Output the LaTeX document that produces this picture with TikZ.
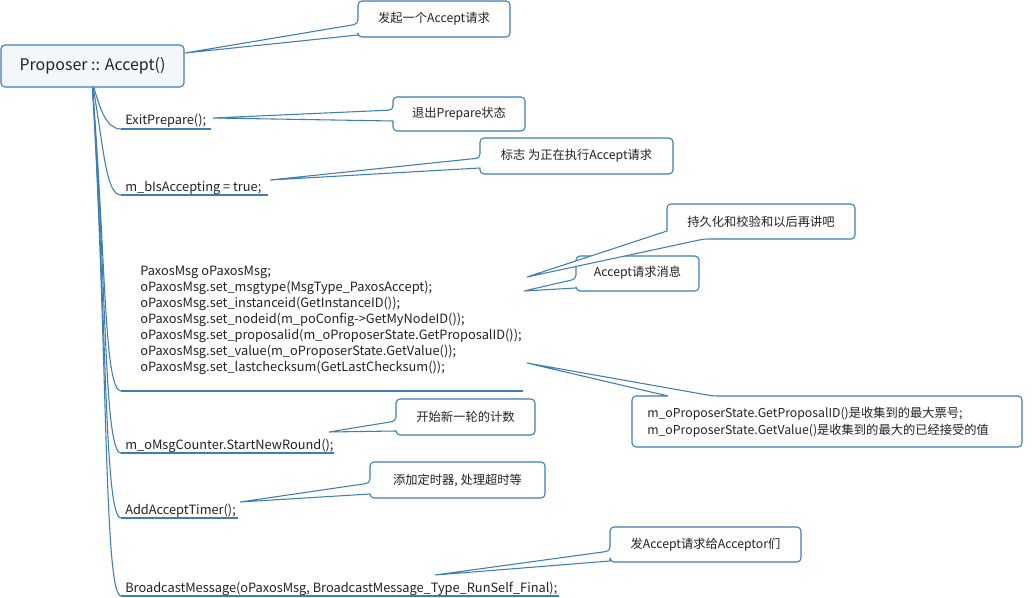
\documentclass[tikz,border=0pt]{standalone}
\usepackage{fontspec}
\setmainfont{Noto Sans CJK SC}
\definecolor{ln}{HTML}{3F7DB3}
\definecolor{rootfill}{HTML}{F3F7FB}
\definecolor{ink}{HTML}{222222}
\newcommand\mkcallL[7]{% x0 y0 x1 y1 ya yb apex
  \filldraw[callout] (#7) -- (#1,#6) [rounded corners=3pt] -- (#1,#4) -- (#3,#4) -- (#3,#2) -- (#1,#2) -- (#1,#5) [sharp corners] -- (#7);}
\begin{document}
\begin{tikzpicture}[x=0.75pt,y=-0.75pt,
  callout/.style={fill=white,draw=ln,line width=0.8pt,line join=round},
  branch/.style={draw=ln,line width=0.8pt},
  uline/.style={draw=ln,line width=0.8pt},
  txt/.style={inner sep=0pt,text=ink,font=\fontsize{9.6}{12}\selectfont},
  ctxt/.style={inner sep=0pt,text=ink,font=\fontsize{9.2}{12.75}\selectfont}]
\useasboundingbox (0,0) rectangle (1032,598);

% root
\node[draw=ln,fill=rootfill,line width=0.8pt,rounded corners=3pt,
  minimum width=137.25pt,minimum height=31.5pt,inner sep=0pt,text=ink,
  font=\fontsize{12}{14}\selectfont] (root) at (92.5,66) {Proposer :: Accept()};

% items
\node[txt,anchor=west] (i1) at (125,121) {ExitPrepare();};
\node[txt,anchor=west] (i2) at (125,188) {m\_bIsAccepting = true;};
\node[txt,anchor=north west,align=left] (i3) at (140,266) {PaxosMsg oPaxosMsg;\\
oPaxosMsg.set\_msgtype(MsgType\_PaxosAccept);\\
oPaxosMsg.set\_instanceid(GetInstanceID());\\
oPaxosMsg.set\_nodeid(m\_poConfig->GetMyNodeID());\\
oPaxosMsg.set\_proposalid(m\_oProposerState.GetProposalID());\\
oPaxosMsg.set\_value(m\_oProposerState.GetValue());\\
oPaxosMsg.set\_lastchecksum(GetLastChecksum());};
\node[txt,anchor=west] (i4) at (125,446) {m\_oMsgCounter.StartNewRound();};
\node[txt,anchor=west] (i5) at (125,511) {AddAcceptTimer();};
\node[txt,anchor=west] (i6) at (125,589) {BroadcastMessage(oPaxosMsg, BroadcastMessage\_Type\_RunSelf\_Final);};

% underline coordinates
\coordinate (u1s) at (121,129); \coordinate (u1e) at (211,129);
\coordinate (u2s) at (121,195); \coordinate (u2e) at (268,195);
\coordinate (u3s) at (121,391); \coordinate (u3e) at (523,391);
\coordinate (u4s) at (121,453); \coordinate (u4e) at (334,453);
\coordinate (u5s) at (121,518); \coordinate (u5e) at (238,518);
\coordinate (u6s) at (121,596); \coordinate (u6e) at (559,596);
\foreach \k in {1,...,6} {\draw[uline] (u\k s) -- (u\k e);}

% branches
\draw[branch] ([xshift=1pt]root.south) .. controls (100,108) and (106,129) .. (u1s);
\draw[branch] ([xshift=0.5pt]root.south) .. controls (104,150) and (106,195) .. (u2s);
\draw[branch] (root.south) .. controls (106,260) and (104,391) .. (u3s);
\draw[branch] (root.south) .. controls (107,290) and (104,453) .. (u4s);
\draw[branch] (root.south) .. controls (107,320) and (104,518) .. (u5s);
\draw[branch] (root.south) .. controls (108,360) and (104,596) .. (u6s);

% callout apex coordinates
\coordinate (a1) at (185,53);
\coordinate (a2) at (213,118);
\coordinate (a3) at (270,180);
\coordinate (a4) at (527,277);
\coordinate (a5) at (524,291);
\coordinate (a6) at (527,363);
\coordinate (a7) at (329,432);
\coordinate (a8) at (240,502);
\coordinate (a9) at (435,575);

% callouts
\mkcallL{358}{1}{510}{37}{24}{35}{a1}
\node[ctxt] (c1) at (434,19) {发起一个Accept请求};
\mkcallL{393}{97}{525}{131}{110}{121}{a2}
\node[ctxt] (c2) at (459,114) {退出Prepare状态};
\mkcallL{480}{138}{673}{174}{158}{168}{a3}
\node[ctxt] (c3) at (576.5,156) {标志 为正在执行Accept请求};
\mkcallL{576}{256}{699}{291}{279}{288}{a5}
\node[ctxt] (c5) at (637.5,273) {Accept请求消息};
\filldraw[callout] (a4) -- (667,231) [rounded corners=3pt] -- (667,204) -- (855,204) -- (855,239) -- (704,239) [sharp corners] -- (a4);
\node[ctxt] (c4) at (761,221.5) {持久化和校验和以后再讲吧};
\filldraw[callout] (a6) -- (668,396) [rounded corners=3pt] -- (632,396) -- (632,447) -- (1022,447) -- (1022,396) -- (713,396) [sharp corners] -- (a6);
\node[ctxt,anchor=west,align=left] (c6) at (647,422) {m\_oProposerState.GetProposalID()是收集到的最大票号;\\m\_oProposerState.GetValue()是收集到的最大的已经接受的值};
\mkcallL{396}{399}{535}{435}{421}{431}{a7}
\node[ctxt] (c7) at (465.5,417) {开始新一轮的计数};
\mkcallL{370}{462}{545}{498}{483}{494}{a8}
\node[ctxt] (c8) at (457.5,480) {添加定时器, 处理超时等};
\mkcallL{610}{527}{801}{562}{551}{561}{a9}
\node[ctxt] (c9) at (705.5,544.5) {发Accept请求给Acceptor们};
\end{tikzpicture}
\end{document}
